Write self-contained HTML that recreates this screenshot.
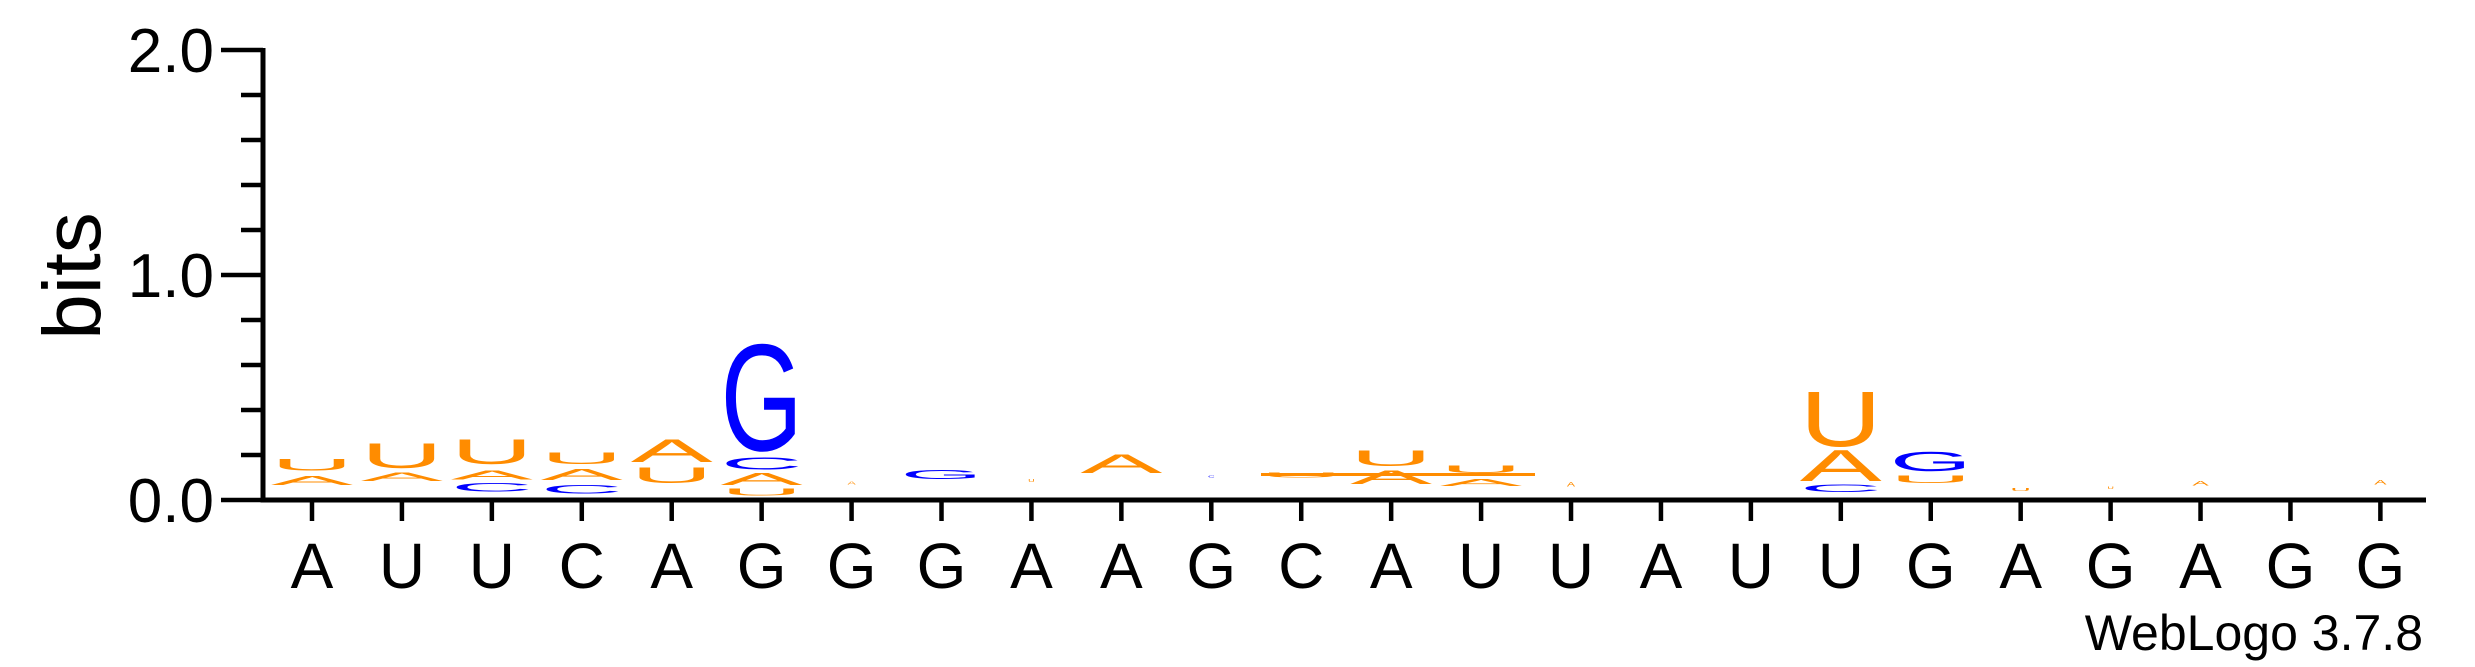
<!DOCTYPE html>
<html><head><meta charset="utf-8">
<style>
html,body{margin:0;padding:0;background:#fff;}
svg{display:block;font-family:"Liberation Sans",Arial,sans-serif;}
</style></head>
<body>
<svg id="logo" width="2475" height="667" viewBox="0 0 2475 667" xmlns="http://www.w3.org/2000/svg">
<g id="axes"></g>
<g id="stacks"></g>
<text transform="translate(100,276) rotate(-90)" text-anchor="middle" font-size="82" fill="#000">bits</text>
<text x="2423" y="650" text-anchor="end" font-size="50" fill="#000">WebLogo 3.7.8</text>
</svg>
<script>
// ---- data ----
const sequence = ["A","U","U","C","A","G","G","G","A","A","G","C","A","U","U","A","U","U","G","A","G","A","G","G"];
const yTickLabels = ["0.0","1.0","2.0"];
const yTickValues = [0, 1, 2];
// letter stacks: column index (0-based), letter, bottom bits, top bits, width fraction
const letterCols = [0,0, 1,1, 2,2,2, 3,3,3, 4,4, 5,5,5,5, 6, 7, 8, 9, 10, 11, 12,12, 13,13, 14, 17,17,17, 18,18, 19, 20, 21, 23];
const letterChars = ["A","U", "A","U", "C","A","U", "C","A","U", "U","A", "U","A","C","G", "A", "G", "U", "A", "C", "U", "A","U", "A","U", "A", "C","A","U", "U","G", "U", "U", "A", "A"];
const letterLo = [0.066,0.132, 0.085,0.142, 0.038,0.091,0.161, 0.028,0.089,0.161, 0.076,0.170, 0.019,0.066,0.136,0.221, 0.070, 0.093, 0.080, 0.120, 0.100, 0.100, 0.071,0.151, 0.062,0.120, 0.060, 0.036,0.085,0.240, 0.075,0.128, 0.040, 0.050, 0.065, 0.070];
const letterHi = [0.108,0.185, 0.123,0.255, 0.076,0.132,0.274, 0.066,0.138,0.214, 0.147,0.274, 0.051,0.123,0.193,0.709, 0.085, 0.133, 0.095, 0.205, 0.110, 0.122, 0.133,0.222, 0.093,0.156, 0.080, 0.071,0.226,0.493, 0.111,0.218, 0.055, 0.062, 0.085, 0.090];
const letterW = [1,1, 1,1, 1,1,1, 1,1,1, 1,1, 1,1,1,1, 0.1, 1, 0.08, 1, 0.08, 1, 1,1, 1,1, 0.1, 1,1,1, 1,1, 0.25, 0.08, 0.2, 0.15];

// ---- geometry ----
const NS = "http://www.w3.org/2000/svg";
const x0 = 312, colStep = 89.93, baseY = 500, pxPerBit = 225, letterWidth = 82;
const xOf = i => x0 + i*colStep;
const yOf = b => baseY - b*pxPerBit;
const colors = {A:"#FF8C00",U:"#FF8C00",G:"#0000FF",C:"#0000FF"};

const axes = document.getElementById("axes");
function mk(tag, attrs, parent){const e=document.createElementNS(NS,tag);for(const k in attrs)e.setAttribute(k,attrs[k]);parent.appendChild(e);return e;}

let e = mk("line",{x1:263,y1:yOf(2)-2,x2:263,y2:baseY+2.5,stroke:"#000","stroke-width":5},axes);


e = mk("line",{x1:261,y1:baseY,x2:2426,y2:baseY,stroke:"#000","stroke-width":5},axes);


for(let k=0;k<=10;k++){
  const b=k*0.2, major=(k%5===0);
  e = mk("line",{x1:major?221:241,y1:yOf(b),x2:263,y2:yOf(b),stroke:"#000","stroke-width":4.5},axes);
  
  
}
yTickValues.forEach((v,i)=>{
  e = mk("text",{x:214,y:yOf(v)+22,"text-anchor":"end","font-size":62,fill:"#000"},axes);
  e.textContent=yTickLabels[i];
  
  
});
sequence.forEach((s,i)=>{
  e = mk("line",{x1:xOf(i),y1:baseY,x2:xOf(i),y2:521,stroke:"#000","stroke-width":4.5},axes);
  
  
  e = mk("text",{x:xOf(i),y:588,"text-anchor":"middle","font-size":64,fill:"#000"},axes);
  e.textContent=s;
  
  
});

const stacks = document.getElementById("stacks");
// thin connecting bar seen in columns 12-14
e = mk("rect",{x:1261,y:473,width:274,height:3,fill:"#FF8C00"},stacks);


const CAP = 72;
letterCols.forEach((c,i)=>{
  const w = letterWidth*letterW[i];
  const h = (letterHi[i]-letterLo[i])*pxPerBit;
  const xl = xOf(c)-w/2, yb = yOf(letterLo[i]);
  const t = mk("text",{x:0,y:0,"font-size":100,fill:colors[letterChars[i]],
    textLength:w,lengthAdjust:"spacingAndGlyphs",
    transform:`translate(${xl},${yb}) scale(1,${h/CAP})`},stacks);
  t.textContent = letterChars[i];
  
  
});
</script>
</body></html>
